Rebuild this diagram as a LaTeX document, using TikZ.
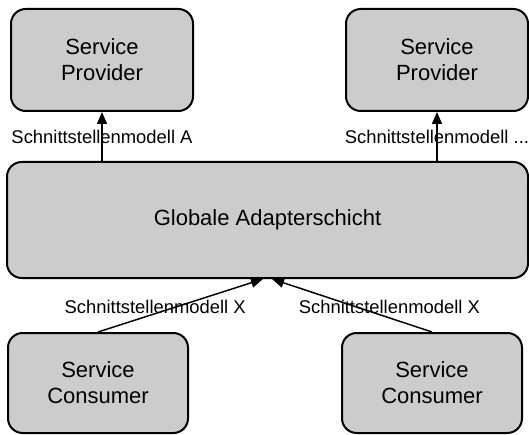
\documentclass[tikz,border=0pt]{standalone}
\usepackage{fontspec}
\setmainfont{Liberation Sans}
\usetikzlibrary{positioning,arrows.meta}
\definecolor{boxgray}{RGB}{204,204,204}
\tikzset{
  svcbox/.style={draw,line width=1.5pt,rounded corners=11pt,fill=boxgray,align=center,
    font=\fontsize{16.5}{19.5}\selectfont,inner sep=0pt},
  ifarrow/.style={line width=1.1pt,-{Triangle[length=9pt,width=7.5pt]}},
  iflabel/.style={font=\fontsize{13.8}{16}\selectfont,inner sep=0pt}
}
\begin{document}
\begin{tikzpicture}[x=0.75pt,y=-0.75pt]
    \useasboundingbox (0,0) rectangle (529,435);

    % Provider oben
    \node[svcbox,minimum width=136.5pt,minimum height=76.5pt] (provA) at (102,60) {Service\\Provider};
    \node[svcbox,minimum width=136.5pt,minimum height=76.5pt] (provB) at (437,60) {Service\\Provider};

    % Adapterschicht
    \node[svcbox,minimum width=390.75pt,minimum height=87pt] (glob) at (267.5,220) {Globale Adapterschicht};

    % Consumer unten
    \node[svcbox,minimum width=135pt,minimum height=75pt] (consA) at (98,383) {Service\\Consumer};
    \node[svcbox,minimum width=135pt,minimum height=75pt] (consB) at (432,383) {Service\\Consumer};

    \draw[ifarrow] (provA.south |- glob.north) -- (provA.south) node[iflabel,midway] {Schnittstellenmodell A};
    \draw[ifarrow] (provB.south |- glob.north) -- (provB.south) node[iflabel,midway] {Schnittstellenmodell ...};

    \draw[ifarrow] (consA.north) -- ([xshift=-3.4pt]glob.south) node[iflabel,midway,xshift=-19pt,yshift=-1pt] {Schnittstellenmodell X};
    \draw[ifarrow] (consB.north) -- ([xshift=3.4pt]glob.south) node[iflabel,midway,xshift=28pt,yshift=-1pt] {Schnittstellenmodell X};
\end{tikzpicture}
\end{document}
